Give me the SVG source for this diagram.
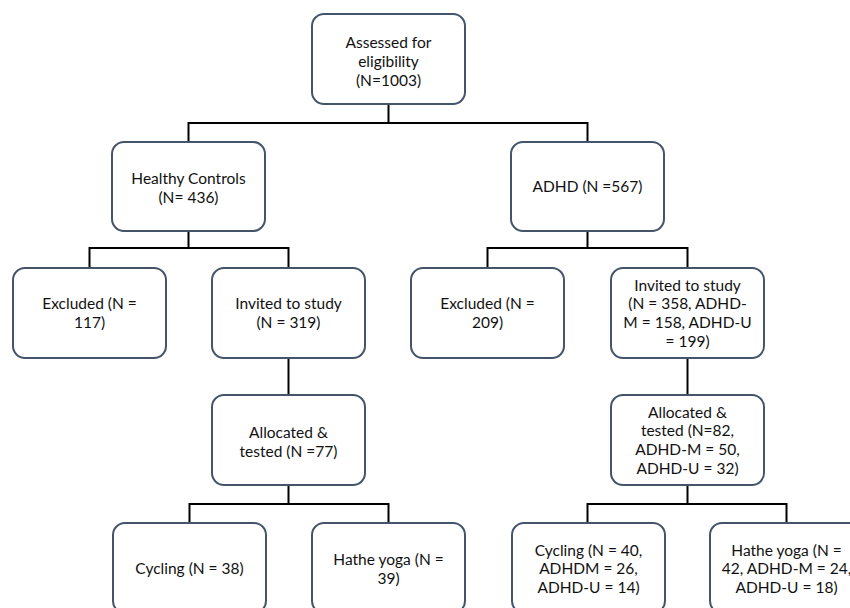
<svg xmlns="http://www.w3.org/2000/svg" width="850" height="608" viewBox="0 0 850 608">
<style>
.box{fill:#ffffff;stroke:#44546a;stroke-width:2}
.t{font-family:Lato,"Open Sans",sans-serif;font-size:15.5px;fill:#111111;text-anchor:middle}
.c{fill:none;stroke:#000000;stroke-width:2}
</style>
<rect width="850" height="608" fill="#ffffff"/>
<g id="connectors">
<path class="c" d="M388.5,104 V123 M188.5,123 H588.5 M188.5,122 V142 M587.5,122 V142"/>
<path class="c" d="M188.5,231 V248 M89.5,248 H289.5 M89.5,247 V268 M288.5,247 V268"/>
<path class="c" d="M587.5,231 V248 M487.5,248 H688.5 M487.5,247 V268 M687.5,247 V268"/>
<path class="c" d="M288.5,358 V395"/>
<path class="c" d="M687.5,358 V395"/>
<path class="c" d="M288.5,485 V504 M189.5,504 H389.5 M189.5,503 V523 M388.5,503 V523"/>
<path class="c" d="M687.5,485 V504 M587.5,504 H787.5 M587.5,503 V523 M786.5,503 V523"/>
</g>
<g id="n-assessed"><rect class="box" x="312" y="14" width="153" height="90" rx="12"/>
<text class="t" x="388.5" y="47.5">Assessed for</text><text class="t" x="388.5" y="66.5">eligibility</text><text class="t" x="388.5" y="85.5">(N=1003)</text></g>
<g id="n-hc"><rect class="box" x="112" y="142" width="153" height="89" rx="12"/>
<text class="t" x="188.5" y="183.5">Healthy Controls</text><text class="t" x="188.5" y="202.5">(N= 436)</text></g>
<g id="n-adhd"><rect class="box" x="511" y="142" width="153" height="89" rx="12"/>
<text class="t" x="587.5" y="192">ADHD (N =567)</text></g>
<g id="n-exc1"><rect class="box" x="13" y="268" width="153" height="90" rx="12"/>
<text class="t" x="89.5" y="308.5">Excluded (N =</text><text class="t" x="89.5" y="327.5">117)</text></g>
<g id="n-inv1"><rect class="box" x="212" y="268" width="153" height="90" rx="12"/>
<text class="t" x="288.5" y="308.5">Invited to study</text><text class="t" x="288.5" y="327.5">(N = 319)</text></g>
<g id="n-exc2"><rect class="box" x="411" y="268" width="153" height="90" rx="12"/>
<text class="t" x="487.5" y="308.5">Excluded (N =</text><text class="t" x="487.5" y="327.5">209)</text></g>
<g id="n-inv2"><rect class="box" x="611" y="268" width="153" height="90" rx="12"/>
<text class="t" x="687.5" y="290.5">Invited to study</text><text class="t" x="687.5" y="309.2">(N = 358, ADHD-</text><text class="t" x="687.5" y="327.9">M = 158, ADHD-U</text><text class="t" x="687.5" y="346.6">= 199)</text></g>
<g id="n-alloc1"><rect class="box" x="212" y="395" width="153" height="90" rx="12"/>
<text class="t" x="288.5" y="437.5">Allocated &amp;</text><text class="t" x="288.5" y="456.5">tested (N =77)</text></g>
<g id="n-alloc2"><rect class="box" x="611" y="395" width="153" height="90" rx="12"/>
<text class="t" x="687.5" y="417.5">Allocated &amp;</text><text class="t" x="687.5" y="436.2">tested (N=82,</text><text class="t" x="687.5" y="454.9">ADHD-M = 50,</text><text class="t" x="687.5" y="473.6">ADHD-U = 32)</text></g>
<g id="n-cyc1"><rect class="box" x="113" y="523" width="153" height="90" rx="12"/>
<text class="t" x="189.5" y="573.5">Cycling (N = 38)</text></g>
<g id="n-yoga1"><rect class="box" x="312" y="523" width="153" height="90" rx="12"/>
<text class="t" x="388.5" y="564.5">Hathe yoga (N =</text><text class="t" x="388.5" y="583.5">39)</text></g>
<g id="n-cyc2"><rect class="box" x="512" y="523" width="153" height="90" rx="12"/>
<text class="t" x="588.5" y="555.5">Cycling (N = 40,</text><text class="t" x="588.5" y="574.2">ADHDM = 26,</text><text class="t" x="588.5" y="592.9">ADHD-U = 14)</text></g>
<g id="n-yoga2"><rect class="box" x="710" y="523" width="153" height="90" rx="12"/>
<text class="t" x="786.5" y="555.5">Hathe yoga (N =</text><text class="t" x="786.5" y="574.2">42, ADHD-M = 24,</text><text class="t" x="786.5" y="592.9">ADHD-U = 18)</text></g>
</svg>
